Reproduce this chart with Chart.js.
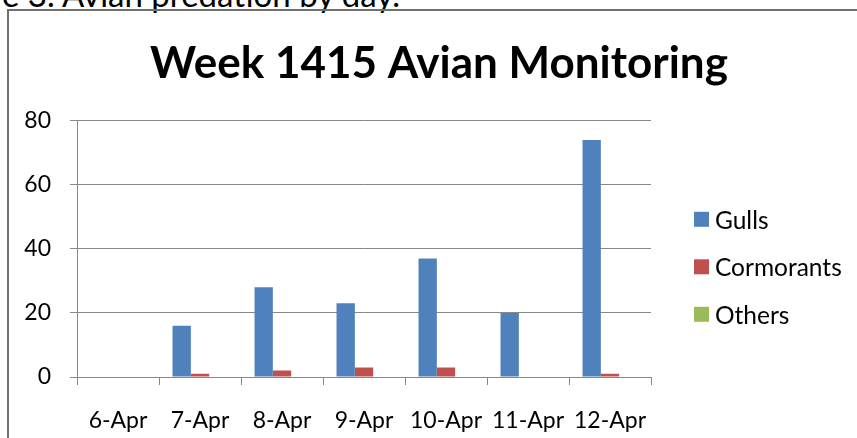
<!DOCTYPE html>
<html>
<head>
<meta charset="utf-8">
<script src="https://cdn.jsdelivr.net/npm/chart.js@4.4.1/dist/chart.umd.min.js"></script>
<style>
  html, body { margin: 0; padding: 0; background: #fff; width: 857px; height: 438px; overflow: hidden; }
  #caption { position: absolute; right: 457px; top: -20px; font-family: Lato, sans-serif; font-size: 30px; line-height: 30px; white-space: nowrap; color: #000; }
  #frame { position: absolute; left: 7px; top: 9px; width: 900px; height: 500px; border-left: 2px solid #717171; border-top: 2px solid #717171; }
  #wrap { position: absolute; left: 0; top: 0; width: 857px; height: 438px; }
</style>
</head>
<body>
<div id="caption">Figure 3. Avian predation by day.</div>
<div id="frame"></div>
<div id="wrap"><canvas id="c" width="857" height="438"></canvas></div>
<script>
const categories = ['6-Apr', '7-Apr', '8-Apr', '9-Apr', '10-Apr', '11-Apr', '12-Apr'];
const gulls = [0, 16, 28, 23, 37, 20, 74];
const cormorants = [0, 1, 2, 3, 3, 0, 1];
const others = [0, 0, 0, 0, 0, 0, 0];
const seriesNames = ['Gulls', 'Cormorants', 'Others'];
const yTicks = [0, 20, 40, 60, 80];
const titleText = 'Week 1415 Avian Monitoring';

const FONT = 'Lato, "Open Sans", sans-serif';
const colors = ['#4F81BD', '#C0504D', '#9BBB59'];

// fit title width to the reference
const mctx = document.createElement('canvas').getContext('2d');
mctx.font = 'bold 44px ' + FONT;
const titleSize = Math.round(44 * 578 / mctx.measureText(titleText).width * 10) / 10;

// caption: visible part is ~400px wide, baseline near y=7
mctx.font = '30px ' + FONT;
const capSize = 30 * 400 / mctx.measureText('e 3. Avian predation by day.').width;
const cap = document.getElementById('caption');
cap.style.fontSize = capSize + 'px';
cap.style.lineHeight = capSize + 'px';
cap.style.top = (7 - 0.887 * capSize) + 'px';

const sideLegend = {
  id: 'sideLegend',
  start(chart) {
    const box = {
      position: 'right', weight: 1000, fullSize: false, options: {},
      left: 0, top: 0, right: 0, bottom: 0, width: 0, height: 0,
      isHorizontal() { return false; },
      update(maxWidth, maxHeight) { this.width = 203; this.height = maxHeight; },
      draw() {
        const ctx = chart.ctx;
        ctx.save();
        ctx.font = '24.5px ' + FONT;
        ctx.textBaseline = 'middle';
        ctx.textAlign = 'left';
        chart.data.datasets.forEach((ds, i) => {
          const cy = chart.chartArea.top + 98.5 + i * 47.5;
          ctx.fillStyle = ds.backgroundColor;
          ctx.fillRect(this.left + 43, cy - 7.5, 15, 15);
          ctx.fillStyle = '#000';
          ctx.fillText(ds.label, this.left + 64, cy + 1.5);
        });
        ctx.restore();
      }
    };
    Chart.layouts.addBox(chart, box);
  }
};

new Chart(document.getElementById('c'), {
  type: 'bar',
  data: {
    labels: categories,
    datasets: [
      { label: seriesNames[0], data: gulls, backgroundColor: colors[0] },
      { label: seriesNames[1], data: cormorants, backgroundColor: colors[1] },
      { label: seriesNames[2], data: others, backgroundColor: colors[2] }
    ]
  },
  options: {
    responsive: false,
    animation: false,
    devicePixelRatio: 1,
    categoryPercentage: 0.67,
    barPercentage: 1,
    layout: { padding: { left: 24, right: 3, top: 9, bottom: 3 } },
    plugins: {
      legend: { display: false },
      tooltip: { enabled: false },
      title: {
        display: true,
        text: titleText,
        color: '#000',
        font: { family: FONT, size: titleSize, weight: 'bold' },
        padding: { top: 28, bottom: 31 }
      }
    },
    scales: {
      x: {
        afterFit(scale) { scale.height = 58; },
        grid: { display: true, drawOnChartArea: false, drawTicks: true, tickLength: 8, color: '#888', offset: true },
        border: { display: true, color: '#888', width: 1 },
        ticks: { color: '#000', font: { family: FONT, size: 23 }, padding: 22, maxRotation: 0, autoSkip: false }
      },
      y: {
        min: 0, max: 80,
        afterFit(scale) { scale.width = 53; },
        afterBuildTicks(scale) { scale.ticks = yTicks.map(v => ({ value: v })); },
        grid: { color: '#888', tickLength: 7, drawTicks: true },
        border: { display: true, color: '#888', width: 1 },
        ticks: { color: '#000', font: { family: FONT, size: 23 }, padding: 19 }
      }
    }
  },
  plugins: [sideLegend]
});
</script>
</body>
</html>
